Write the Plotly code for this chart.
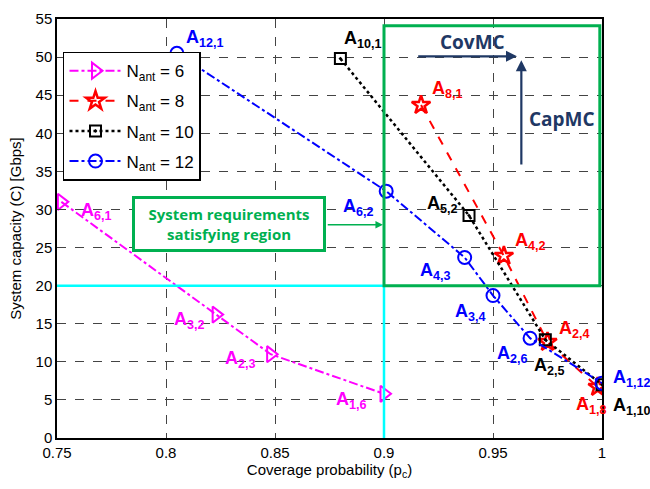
import plotly.graph_objects as go

# Data
x6 = [0.752, 0.823, 0.848, 0.900]
y6 = [31.0, 16.2, 11.0, 5.8]
x8 = [0.917, 0.955, 0.975, 0.998]
y8 = [43.7, 23.9, 12.6, 6.7]
x10 = [0.880, 0.939, 0.974, 1.000]
y10 = [49.8, 29.2, 12.9, 7.0]
x12 = [0.805, 0.901, 0.937, 0.950, 0.967, 1.000]
y12 = [50.5, 32.4, 23.7, 18.7, 13.1, 7.2]

labels6 = ["6,1", "3,2", "2,3", "1,6"]
labels8 = ["8,1", "4,2", "2,4", "1,8"]
labels10 = ["10,1", "5,2", "2,5", "1,10"]
labels12 = ["12,1", "6,2", "4,3", "3,4", "2,6", "1,12"]

# label positions (data coords)
lab6 = [(0.7683, 29.7), (0.811, 15.4), (0.8344, 10.3), (0.885, 4.9)]
lab8 = [(0.929, 45.8), (0.967, 25.8), (0.9876, 14.3), (0.995, 4.3)]
lab10 = [(0.8904, 52.3), (0.927, 30.7), (0.976, 9.4), (1.0138, 4.1)]
lab12 = [(0.8179, 52.4), (0.8885, 30.2), (0.9234, 21.9), (0.9395, 16.5), (0.959, 10.9), (1.0138, 7.8)]

XMIN, XMAX = 0.75, 1.0
font = "Liberation Sans, Arial, sans-serif"
fig = go.Figure()

fig.add_trace(go.Scatter(x=x6, y=y6, mode="lines+markers", name="N<sub>ant</sub> = 6", legendgroup="a",
                         line=dict(color="#FF00FF", width=2, dash="dashdot"),
                         marker=dict(symbol="triangle-right-open", size=14, color="#FF00FF", line=dict(width=2))))
fig.add_trace(go.Scatter(x=x8, y=y8, mode="lines+markers", name="N<sub>ant</sub> = 8", legendgroup="b",
                         line=dict(color="#FF0000", width=2, dash="dash"),
                         marker=dict(symbol="star-open", size=14, color="#FF0000", line=dict(width=2.5))))
fig.add_trace(go.Scatter(x=x10, y=y10, mode="lines+markers", name="N<sub>ant</sub> = 10", legendgroup="c",
                         line=dict(color="#000000", width=2.5, dash="dot"),
                         marker=dict(symbol="square-open-dot", size=11, color="#000000", line=dict(width=2))))
fig.add_trace(go.Scatter(x=x12, y=y12, mode="lines+markers", name="N<sub>ant</sub> = 12", legendgroup="d",
                         line=dict(color="#0000FF", width=2, dash="dashdot"),
                         marker=dict(symbol="circle-open", size=13, color="#0000FF", line=dict(width=2))))

anns = []
for labs, pos, col in [(labels6, lab6, "#FF00FF"), (labels8, lab8, "#FF0000"),
                       (labels10, lab10, "#000000"), (labels12, lab12, "#0000FF")]:
    for t, (ax_, ay_) in zip(labs, pos):
        if ax_ > XMAX:
            # outside the data range: place with paper x so it stays visible
            anns.append(dict(x=(ax_ - XMIN) / (XMAX - XMIN), y=ay_, xref="paper", yref="y",
                             xanchor="center", yanchor="middle",
                             text=f"<b>A<sub>{t}</sub></b>", showarrow=False,
                             font=dict(family=font, size=18, color=col)))
        else:
            anns.append(dict(x=ax_, y=ay_, xref="x", yref="y", text=f"<b>A<sub>{t}</sub></b>",
                             xanchor="center", yanchor="middle",
                             showarrow=False, font=dict(family=font, size=18, color=col)))

navy = "#1F3864"
green = "#00B050"
cal = "Open Sans, Carlito, sans-serif"
# CovMC arrow
anns.append(dict(x=0.961, y=50.1, ax=0.915, ay=50.1, xref="x", yref="y", axref="x", ayref="y",
                 showarrow=True, arrowhead=2, arrowsize=1, arrowwidth=2.2, arrowcolor=navy, text=""))
anns.append(dict(x=0.9408, y=52.0, xref="x", yref="y", text="<b>CovMC</b>", showarrow=False,
                 font=dict(family=cal, size=19, color=navy)))
# CapMC arrow
anns.append(dict(x=0.963, y=49.6, ax=0.963, ay=35.7, xref="x", yref="y", axref="x", ayref="y",
                 showarrow=True, arrowhead=2, arrowsize=1, arrowwidth=2.2, arrowcolor=navy, text=""))
anns.append(dict(x=0.9817, y=41.9, xref="x", yref="y", text="<b>CapMC</b>", showarrow=False,
                 font=dict(family=cal, size=19, color=navy)))
# System requirements box
anns.append(dict(x=0.8291, y=28.08, xref="x", yref="y",
                 text="<b>System requirements<br>satisfying region</b>", showarrow=False,
                 font=dict(family=cal, size=15, color=green), width=182, height=44,
                 bordercolor=green, borderwidth=3, borderpad=3, bgcolor="white"))
anns.append(dict(x=0.8995, y=28.0, ax=0.8735, ay=28.0, xref="x", yref="y", axref="x", ayref="y",
                 showarrow=True, arrowhead=2, arrowsize=1, arrowwidth=1.5, arrowcolor=green, text=""))

shapes = [
    dict(type="line", x0=0.75, x1=0.9, y0=20, y1=20, xref="x", yref="y", line=dict(color="#00FFFF", width=2.5)),
    dict(type="line", x0=0.9, x1=0.9, y0=0, y1=20, xref="x", yref="y", line=dict(color="#00FFFF", width=2.5)),
    dict(type="rect", x0=0.9, x1=0.999, y0=20, y1=54.1, xref="x", yref="y", line=dict(color=green, width=3)),
]

fig.update_layout(
    width=650, height=489,
    margin=dict(l=57, r=48, t=10, b=51),
    paper_bgcolor="white", plot_bgcolor="white",
    font=dict(family=font, size=15, color="black"),
    annotations=anns, shapes=shapes,
    legend=dict(x=0.011, y=0.922, xanchor="left", yanchor="top", bgcolor="white",
                bordercolor="black", borderwidth=1.5, font=dict(family=font, size=17),
                tracegroupgap=5, itemwidth=52),
    showlegend=True,
)
fig.update_xaxes(range=[XMIN, XMAX], tickvals=[0.75, 0.8, 0.85, 0.9, 0.95, 1.0],
                 ticktext=["0.75", "0.8", "0.85", "0.9", "0.95", "1"],
                 showgrid=True, gridcolor="#444", griddash="dash", gridwidth=1,
                 showline=True, linecolor="black", linewidth=1.5, mirror="ticks",
                 ticks="inside", ticklen=5, zeroline=False,
                 title=dict(text="Coverage probability (p<sub>c</sub>)", standoff=2, font=dict(size=15)))
fig.update_yaxes(range=[0, 55], tickvals=list(range(0, 56, 5)),
                 showgrid=True, gridcolor="#444", griddash="dash", gridwidth=1,
                 showline=True, linecolor="black", linewidth=1.5, mirror="ticks",
                 ticks="inside", ticklen=5, zeroline=False,
                 title=dict(text="System capacity (C) [Gbps]", standoff=10, font=dict(size=15)))

fig.write_html("out.html", config={"displayModeBar": False},
               post_script="document.body.style.margin='0';")
